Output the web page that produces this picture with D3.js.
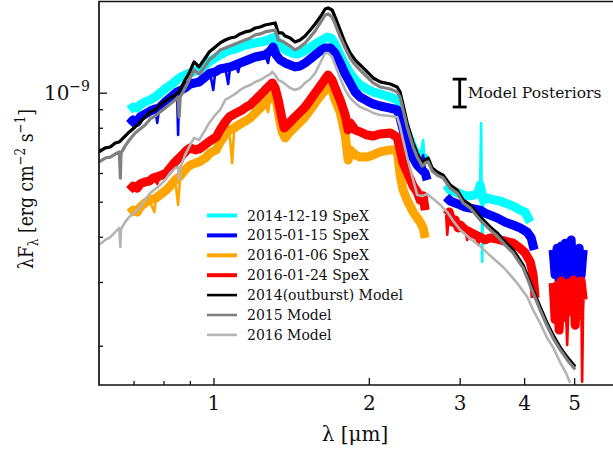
<!DOCTYPE html>
<html>
<head>
<meta charset="utf-8">
<script src="https://cdn.jsdelivr.net/npm/d3@7"></script>
<style>
  body { margin: 0; background: #fff; }
  text { font-family: "DejaVu Serif", serif; fill: #111; }
</style>
</head>
<body>
<script>
// flux values are lambda*F_lambda in units of 1e-10 erg cm^-2 s^-1, wavelength in micron
// a third entry of 1 marks a narrow feature (single-channel spike)

var speX20141219 = [
  [0.687, 8.96], [0.699, 9.13], [0.712, 9.07], [0.721, 9.25], [0.737, 9.43], [0.754, 9.55],
  [0.771, 9.73], [0.788, 9.98], [0.810, 10.30], [0.832, 10.57], [0.858, 10.98], [0.881, 11.19],
  [0.901, 11.33], [0.922, 11.48], [0.938, 11.55], [0.964, 11.93], [0.985, 12.23], [1.008, 12.47],
  [1.030, 12.71], [1.054, 12.95], [1.077, 13.12], [1.102, 13.20], [1.126, 13.37], [1.152, 13.54],
  [1.178, 13.63], [1.205, 13.72], [1.232, 13.80], [1.259, 13.89], [1.288, 14.07], [1.317, 14.25],
  [1.335, 13.63], [1.359, 13.29], [1.389, 13.04], [1.420, 12.87], [1.453, 12.79], [1.486, 12.95],
  [1.519, 13.20], [1.553, 13.45], [1.589, 13.72], [1.624, 13.98], [1.661, 14.25], [1.691, 14.16],
  [1.721, 13.63], [1.760, 12.71], [1.800, 11.93], [1.840, 11.33], [1.882, 10.84], [1.924, 10.50],
  [1.986, 10.24], [2.039, 10.04], [2.104, 9.92], [2.200, 9.73], [2.270, 9.55], [2.300, 9.07],
  [2.331, 8.41], [2.373, 7.74], [2.438, 7.04], [2.482, 6.73], [2.515, 6.60], [2.538, 7.17, 1],
  [2.549, 7.40, 1], [2.562, 6.60], [2.595, 6.39],
  null,
  [2.825, 5.56], [2.876, 5.38], [2.941, 5.32], [3.007, 5.25], [3.075, 5.19], [3.144, 5.19],
  [3.215, 5.22], [3.258, 5.32], [3.287, 5.56], [3.302, 8.25, 1], [3.309, 5.38, 1], [3.317, 3.41, 1],
  [3.332, 5.05], [3.392, 5.12], [3.437, 5.09], [3.515, 5.05], [3.593, 5.02], [3.674, 4.96],
  [3.758, 4.90], [3.842, 4.83], [3.929, 4.74], [4.018, 4.68], [4.109, 4.39]
];

var speX20150115 = [
  [0.687, 8.19], [0.699, 8.41], [0.712, 8.30], [0.721, 8.57], [0.737, 8.73], [0.754, 8.90],
  [0.771, 9.02], [0.778, 8.25, 1], [0.785, 9.07], [0.810, 9.49], [0.832, 9.79], [0.850, 10.04],
  [0.854, 7.64, 1], [0.858, 10.11], [0.881, 10.30], [0.901, 10.57], [0.922, 10.64], [0.938, 10.70],
  [0.964, 11.05], [0.985, 11.33], [0.999, 10.17, 1], [1.008, 11.41], [1.030, 11.63], [1.054, 11.70],
  [1.068, 10.57, 1], [1.077, 11.78], [1.102, 11.93], [1.117, 11.41, 1], [1.126, 12.08], [1.152, 12.23],
  [1.178, 12.39], [1.205, 12.55], [1.232, 12.63], [1.259, 12.71], [1.276, 12.08, 1], [1.288, 13.04],
  [1.305, 13.37], [1.323, 12.71], [1.347, 12.31], [1.377, 12.08], [1.408, 11.93], [1.439, 11.78],
  [1.472, 11.85], [1.505, 12.08], [1.540, 12.39], [1.574, 12.71], [1.610, 13.04], [1.646, 13.29],
  [1.684, 13.29], [1.721, 12.87], [1.760, 12.08], [1.800, 11.26], [1.840, 10.64], [1.882, 10.04],
  [1.924, 9.73], [1.986, 9.49], [2.039, 9.31], [2.104, 9.19], [2.200, 9.07], [2.270, 8.96],
  [2.300, 8.51], [2.331, 7.89], [2.373, 7.26], [2.438, 6.60], [2.482, 6.31], [2.515, 6.19],
  [2.549, 6.73, 1], [2.572, 6.00], [2.595, 5.74],
  null,
  [2.825, 5.15], [2.876, 5.02], [2.941, 4.96], [3.007, 4.90], [3.075, 4.83], [3.144, 4.80],
  [3.215, 4.77], [3.287, 4.74], [3.361, 4.65], [3.437, 4.59], [3.546, 4.51], [3.674, 4.39],
  [3.808, 4.31], [3.929, 4.23], [4.054, 4.12], [4.128, 3.97], [4.183, 3.68],
  null,
  [4.552, 3.68], [4.593, 3.14], [4.634, 3.72], [4.676, 3.04], [4.718, 3.77], [4.761, 3.20],
  [4.804, 3.84], [4.847, 3.08], [4.890, 3.68], [4.934, 3.92], [4.978, 3.02], [5.023, 3.63],
  [5.068, 3.28], [5.113, 3.72], [5.159, 3.14], [5.206, 3.68]
];

var speX20160106 = [
  [0.687, 4.65], [0.699, 4.74], [0.712, 4.68], [0.721, 4.83], [0.737, 4.96], [0.751, 5.05],
  [0.768, 4.68, 1], [0.774, 5.12], [0.788, 5.22], [0.810, 5.38], [0.824, 5.52], [0.843, 5.74],
  [0.854, 4.90, 1], [0.862, 5.89], [0.881, 6.12], [0.901, 6.31], [0.922, 6.39], [0.938, 6.44],
  [0.964, 6.60], [0.985, 6.81], [1.012, 6.95], [1.030, 7.31], [1.054, 7.64], [1.073, 7.89],
  [1.087, 6.39, 1], [1.097, 7.99], [1.126, 8.19], [1.152, 8.35], [1.178, 8.51], [1.205, 8.79],
  [1.232, 9.07], [1.259, 9.37], [1.276, 8.84, 1], [1.288, 9.67], [1.305, 9.85], [1.323, 9.55],
  [1.341, 8.51], [1.359, 7.79], [1.377, 7.50], [1.396, 7.69], [1.420, 7.89], [1.439, 8.04],
  [1.472, 8.30], [1.505, 8.57], [1.540, 8.96], [1.574, 9.37], [1.610, 9.79], [1.646, 10.17],
  [1.668, 10.43], [1.698, 10.17], [1.721, 9.55], [1.760, 8.84], [1.800, 7.64], [1.824, 6.52],
  [1.840, 6.95], [1.882, 6.73], [1.924, 6.64], [1.986, 6.64], [2.039, 6.73], [2.104, 6.86],
  [2.200, 6.95], [2.270, 6.95], [2.300, 5.92], [2.331, 5.38], [2.373, 5.05], [2.438, 4.68],
  [2.482, 4.51], [2.515, 4.39], [2.549, 4.23], [2.572, 3.97]
];

var speX20160124 = [
  [0.687, 5.38], [0.699, 5.52], [0.712, 5.45], [0.721, 5.60], [0.737, 5.67], [0.751, 5.70],
  [0.764, 5.81], [0.778, 5.60, 1], [0.788, 5.89], [0.810, 6.00], [0.824, 6.19], [0.843, 6.44],
  [0.858, 6.60], [0.874, 6.77], [0.889, 6.95], [0.901, 7.04], [0.922, 6.95], [0.938, 6.99],
  [0.955, 7.12], [0.972, 7.26], [0.990, 7.40], [1.012, 7.54], [1.030, 7.89], [1.054, 8.30],
  [1.073, 8.57], [1.097, 8.73], [1.117, 8.84], [1.137, 8.96], [1.157, 9.13], [1.178, 9.25],
  [1.205, 9.55], [1.232, 9.85], [1.259, 10.17], [1.282, 10.43], [1.300, 10.64], [1.317, 10.30],
  [1.335, 9.55], [1.353, 8.68], [1.371, 7.99], [1.389, 8.14], [1.408, 8.30], [1.439, 8.57],
  [1.472, 8.84], [1.505, 9.13], [1.540, 9.55], [1.574, 9.98], [1.610, 10.43], [1.646, 10.91],
  [1.668, 11.19], [1.698, 10.84], [1.721, 10.30], [1.760, 9.55], [1.800, 8.68], [1.824, 7.89],
  [1.840, 8.25], [1.882, 7.89], [1.924, 7.79], [1.986, 7.64], [2.039, 7.59], [2.104, 7.69],
  [2.200, 7.74], [2.270, 7.54], [2.300, 6.95], [2.331, 6.39], [2.373, 6.04], [2.438, 5.52],
  [2.482, 5.32], [2.515, 5.05], [2.549, 5.19], [2.572, 4.74],
  null,
  [2.825, 4.59], [2.838, 4.05, 1], [2.863, 4.68], [2.902, 4.39], [2.941, 4.45], [2.980, 4.23],
  [3.007, 4.31], [3.075, 4.18], [3.102, 3.92, 1], [3.144, 4.12], [3.215, 4.05], [3.258, 3.80, 1],
  [3.287, 3.99], [3.361, 3.92], [3.437, 3.97], [3.546, 3.94], [3.674, 3.89], [3.808, 3.84],
  [3.929, 3.72], [4.018, 3.61], [4.109, 3.41], [4.164, 3.14], [4.201, 2.71],
  null,
  [4.552, 2.98], [4.593, 2.36], [4.634, 2.94], [4.676, 2.21], [4.718, 3.02], [4.761, 2.39],
  [4.804, 2.96], [4.847, 2.01, 1], [4.890, 2.98], [4.934, 2.48], [4.978, 3.04], [5.023, 2.28],
  [5.068, 2.94], [5.113, 2.43], [5.159, 3.02], [5.182, 1.59, 1], [5.206, 2.68]
];

var model2014 = [
  [0.600, 6.86], [0.617, 7.04], [0.631, 7.08], [0.645, 7.26], [0.657, 7.31], [0.674, 7.59],
  [0.687, 7.79], [0.705, 8.04], [0.721, 8.30], [0.737, 8.57], [0.754, 8.84], [0.771, 8.96],
  [0.788, 9.25], [0.806, 9.49], [0.824, 9.67], [0.843, 9.85], [0.858, 10.04], [0.881, 10.84],
  [0.897, 11.33], [0.917, 12.16], [0.938, 11.78], [0.964, 12.47], [0.981, 12.95], [1.008, 13.37],
  [1.030, 13.72], [1.054, 13.98], [1.077, 14.16], [1.102, 14.25], [1.126, 14.53], [1.152, 14.72],
  [1.178, 14.81], [1.205, 15.09], [1.232, 15.19], [1.259, 15.38], [1.288, 15.48], [1.317, 15.58],
  [1.335, 14.62], [1.359, 14.62], [1.377, 14.34], [1.408, 14.16], [1.439, 13.80], [1.472, 13.98],
  [1.505, 14.34], [1.540, 14.90], [1.574, 15.48], [1.610, 16.18], [1.646, 17.03], [1.668, 17.14],
  [1.698, 16.92], [1.721, 16.18], [1.760, 14.90], [1.800, 13.72], [1.840, 12.87], [1.882, 12.31],
  [1.924, 11.93], [1.986, 11.41], [2.039, 10.98], [2.104, 10.71], [2.200, 10.57], [2.270, 10.37],
  [2.300, 10.04], [2.331, 9.25], [2.373, 8.25], [2.438, 7.26], [2.482, 6.81], [2.538, 6.39],
  [2.572, 6.52], [2.607, 6.60], [2.654, 6.19], [2.713, 6.04], [2.787, 5.92], [2.876, 5.56],
  [2.967, 5.38], [3.048, 5.05], [3.144, 4.90], [3.287, 4.54], [3.437, 4.26], [3.546, 4.10],
  [3.674, 3.87], [3.808, 3.68], [3.877, 3.54], [3.982, 3.34], [4.054, 3.14], [4.164, 2.85],
  [4.296, 2.56], [4.432, 2.31], [4.552, 2.14], [4.697, 1.98], [4.847, 1.86], [5.023, 1.75]
];

var model2015 = [
  [0.600, 6.44], [0.617, 6.60], [0.631, 6.64], [0.645, 6.77], [0.657, 6.86], [0.660, 5.81],
  [0.662, 6.81], [0.674, 7.12], [0.687, 7.40], [0.705, 7.74], [0.721, 7.94], [0.737, 8.14],
  [0.754, 8.46], [0.771, 8.62], [0.788, 8.85], [0.806, 9.07], [0.824, 9.31], [0.843, 9.55],
  [0.854, 9.73], [0.858, 8.57], [0.862, 9.73], [0.881, 10.30], [0.897, 10.84], [0.917, 11.55],
  [0.938, 11.26], [0.964, 11.85], [0.981, 12.31], [1.008, 12.71], [1.030, 13.12], [1.054, 13.29],
  [1.077, 13.45], [1.102, 13.63], [1.126, 13.80], [1.152, 13.98], [1.178, 14.16], [1.205, 14.44],
  [1.232, 14.53], [1.259, 14.72], [1.288, 14.81], [1.317, 14.90], [1.335, 13.98], [1.359, 13.89],
  [1.377, 13.72], [1.408, 13.45], [1.439, 13.12], [1.472, 13.37], [1.505, 13.72], [1.540, 14.25],
  [1.574, 14.81], [1.610, 15.58], [1.646, 16.39], [1.668, 16.50], [1.698, 16.18], [1.721, 15.48],
  [1.760, 14.25], [1.800, 13.29], [1.840, 12.47], [1.882, 11.93], [1.924, 11.55], [1.986, 11.05],
  [2.039, 10.64], [2.104, 10.37], [2.200, 10.24], [2.270, 10.04], [2.300, 9.73], [2.331, 8.96],
  [2.373, 8.04], [2.438, 7.08], [2.482, 6.64], [2.538, 6.27], [2.572, 6.39], [2.607, 6.44],
  [2.654, 6.08], [2.713, 5.92], [2.787, 5.81], [2.876, 5.45], [2.967, 5.28], [3.048, 4.96],
  [3.144, 4.80], [3.287, 4.45], [3.437, 4.18], [3.546, 4.02], [3.674, 3.80], [3.808, 3.61],
  [3.877, 3.47], [3.982, 3.28], [4.054, 3.08], [4.164, 2.80], [4.296, 2.51], [4.432, 2.27],
  [4.552, 2.10], [4.697, 1.95], [4.847, 1.83], [5.023, 1.72]
];

var model2016 = [
  [0.600, 3.80], [0.617, 3.92], [0.631, 3.99], [0.645, 4.12], [0.657, 4.23], [0.660, 3.75],
  [0.662, 4.20], [0.674, 4.39], [0.687, 4.54], [0.705, 4.68], [0.721, 4.83], [0.737, 5.05],
  [0.754, 5.28], [0.771, 5.42], [0.788, 5.56], [0.806, 5.74], [0.824, 6.00], [0.843, 6.19],
  [0.854, 6.23], [0.858, 5.74], [0.862, 6.19], [0.881, 6.73], [0.897, 7.08], [0.917, 7.50],
  [0.938, 7.40], [0.964, 7.89], [0.981, 8.25], [1.008, 8.68], [1.030, 8.96], [1.054, 9.55],
  [1.077, 9.73], [1.102, 9.92], [1.126, 10.17], [1.152, 10.37], [1.178, 10.50], [1.205, 10.71],
  [1.232, 10.84], [1.259, 11.05], [1.288, 11.26], [1.300, 11.41], [1.317, 11.19], [1.335, 10.84],
  [1.359, 10.71], [1.377, 10.57], [1.408, 10.30], [1.439, 10.17], [1.472, 10.30], [1.505, 10.64],
  [1.540, 10.91], [1.574, 11.33], [1.610, 12.08], [1.646, 12.87], [1.668, 12.87], [1.698, 12.55],
  [1.721, 11.93], [1.760, 10.98], [1.800, 10.17], [1.840, 9.67], [1.882, 9.37], [1.924, 9.13],
  [1.986, 8.96], [2.039, 8.79], [2.104, 8.68], [2.200, 8.62], [2.270, 8.57], [2.300, 8.04],
  [2.331, 7.40], [2.373, 6.64], [2.438, 5.74], [2.482, 5.22], [2.538, 5.18], [2.595, 5.25],
  [2.654, 5.12], [2.750, 4.90], [2.838, 4.68], [2.915, 4.42], [3.007, 4.18], [3.144, 3.95],
  [3.287, 3.77], [3.392, 3.61], [3.515, 3.45], [3.642, 3.30], [3.758, 3.14], [3.877, 2.98],
  [3.965, 2.85], [4.054, 2.73], [4.164, 2.51], [4.296, 2.31], [4.432, 2.10], [4.552, 1.98],
  [4.697, 1.80], [4.804, 1.70], [4.912, 1.58]
];

var legendLabels = ["2014-12-19 SpeX", "2015-01-15 SpeX", "2016-01-06 SpeX", "2016-01-24 SpeX",
                    "2014(outburst) Model", "2015 Model", "2016 Model"];
var xTickValues = [1, 2, 3, 4, 5];
var xMinorValues = [0.7, 0.8, 0.9];
var yMinorValues = [2, 3, 4, 5, 6, 7, 8, 9];
var posterior = {x: 3.0, lo: 9.13, hi: 10.9, label: "Model Posteriors"};

// styles, in the same order as the legend
var colors = ["#00ffff", "#0000ff", "#ffa500", "#ff0000", "#000000", "#808080", "#b4b4b4"];
var widths = [9, 9, 9, 9, 3.2, 3.2, 2.6];
var legendWidths = [4, 4, 4, 4, 2.6, 2.6, 2.6];
var allData = [speX20141219, speX20150115, speX20160106, speX20160124, model2014, model2015, model2016];

var margin = {top: 1.5, left: 99},
    width = 516,
    height = 383.5;

var svg = d3.select("body")
  .append("svg")
    .attr("width", 613)
    .attr("height", 453)
  .append("g")
    .attr("transform", "translate(" + margin.left + "," + margin.top + ")");

var x = d3.scaleLog().domain([0.6, 6]).range([0, width]);
var y = d3.scaleLog().domain([1.558, 17.86]).range([height, 0]);

svg.append("clipPath").attr("id", "clip")
  .append("rect").attr("width", width).attr("height", height);

var line = d3.line()
    .defined(function(d) { return d != null; })
    .x(function(d) { return x(d[0]); })
    .y(function(d) { return y(d[1]); });

// the noisy spectra: a wide band, plus a thin pass that carries the narrow spikes
function bandOnly(data) {
  return data.filter(function(d) { return d == null || !d[2]; });
}

var plot = svg.append("g").attr("clip-path", "url(#clip)");

var groups = plot.selectAll("g.series")
  .data(allData)
  .enter()
  .append("g")
    .attr("class", "series")
    .attr("fill", "none")
    .attr("stroke", function(d, i) { return colors[i]; })
    .attr("stroke-linejoin", "round");

groups.append("path")
    .attr("d", line)
    .attr("stroke-width", function(d, i) { return i < 4 ? 2.6 : widths[i]; });
groups.filter(function(d, i) { return i < 4; })
  .append("path")
    .attr("d", function(d) { return line(bandOnly(d)); })
    .attr("stroke-width", function(d, i) { return widths[i]; });

// x axis, ticks pointing in
var xAxis = svg.append("g")
    .attr("transform", "translate(0," + height + ")")
    .call(d3.axisBottom(x).tickValues(xTickValues).tickFormat(d3.format("d"))
      .tickSize(-7).tickSizeOuter(0).tickPadding(11));
xAxis.selectAll("text").style("font-size", "20px").style("font-family", "DejaVu Serif");
svg.append("g")
    .attr("transform", "translate(0," + height + ")")
    .call(d3.axisBottom(x).tickValues(xMinorValues).tickFormat("").tickSize(-4).tickSizeOuter(0));

// y axis
svg.append("g")
    .call(d3.axisLeft(y).tickValues([10]).tickFormat("").tickSize(-8).tickSizeOuter(0));
svg.append("g")
    .call(d3.axisLeft(y).tickValues(yMinorValues).tickFormat("").tickSize(-4).tickSizeOuter(0));
svg.selectAll(".domain").remove();
svg.selectAll(".tick line").attr("stroke", "#111").attr("stroke-width", 1.3);

var yLab = svg.append("text")
    .attr("x", -9)
    .attr("y", y(10) + 7)
    .attr("text-anchor", "end")
    .style("font-size", "20px");
yLab.append("tspan").text("10");
yLab.append("tspan").attr("dy", -9).style("font-size", "14px").text("\u22129");

// frame
svg.append("path")
    .attr("d", "M" + (width + 5) + ",0H0V" + height + "H" + (width + 5))
    .attr("fill", "none")
    .attr("stroke", "#111")
    .attr("stroke-width", 1.7);

// axis titles
var xt = svg.append("text")
    .attr("x", 355 - margin.left)
    .attr("y", 441 - margin.top)
    .attr("text-anchor", "middle")
    .style("font-size", "20px");
xt.append("tspan").text("\u03bb [\u03bcm]");

var yt = svg.append("text")
    .attr("transform", "translate(" + (33 - margin.left) + "," + (189 - margin.top) + ") rotate(-90) scale(0.86,1)")
    .attr("text-anchor", "middle")
    .style("font-size", "20px");
yt.append("tspan").text("\u03bbF");
yt.append("tspan").attr("dy", 5).style("font-size", "14px").text("\u03bb");
yt.append("tspan").attr("dy", -5).text(" [erg cm");
yt.append("tspan").attr("dy", -8).style("font-size", "14px").text("\u22122");
yt.append("tspan").attr("dy", 8).text(" s");
yt.append("tspan").attr("dy", -8).style("font-size", "14px").text("\u22121");
yt.append("tspan").attr("dy", 8).text("]");

// model posterior marker
var pg = svg.append("g").attr("stroke", "#000").attr("stroke-width", 2.8);
pg.append("line")
    .attr("x1", x(posterior.x)).attr("x2", x(posterior.x))
    .attr("y1", y(posterior.lo)).attr("y2", y(posterior.hi));
pg.selectAll("line.cap")
  .data([posterior.lo, posterior.hi])
  .enter().append("line")
    .attr("class", "cap")
    .attr("x1", x(posterior.x) - 7).attr("x2", x(posterior.x) + 7)
    .attr("y1", function(d) { return y(d); })
    .attr("y2", function(d) { return y(d); });
svg.append("text")
    .attr("x", x(posterior.x) + 8)
    .attr("y", y(10) + 5.5)
    .style("font-size", "15.5px")
    .text(posterior.label);

// legend
var legend = svg.append("g").attr("transform", "translate(" + (207 - margin.left) + "," + (215.5 - margin.top) + ")");
var rows = legend.selectAll("g")
  .data(legendLabels)
  .enter().append("g")
    .attr("transform", function(d, i) { return "translate(0," + (i * 19.9) + ")"; });
rows.append("line")
    .attr("x1", 0).attr("x2", 30)
    .attr("stroke", function(d, i) { return colors[i]; })
    .attr("stroke-width", function(d, i) { return legendWidths[i]; });
rows.append("text")
    .attr("x", 40)
    .attr("y", 5)
    .style("font-size", "14px")
    .text(function(d) { return d; });
</script>
</body>
</html>
